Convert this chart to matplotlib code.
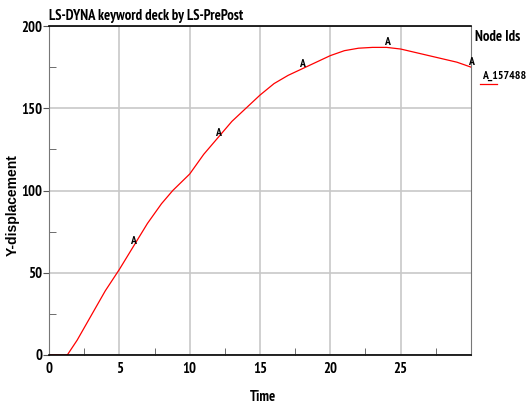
import numpy as np
import matplotlib.pyplot as plt
from matplotlib.ticker import MultipleLocator

# Node 157488 Y-displacement over time
time = [0, 1.3, 2, 3, 4, 5, 6, 7, 8, 8.8, 10, 11, 12, 13, 14, 15, 16, 17, 18,
        19, 20, 21, 22, 23, 24, 25, 26, 27, 28, 29, 30]
ydisp = [0, 0, 9, 24, 39, 52, 66, 80, 92, 100, 110, 122, 132, 142, 150, 158,
         165, 170, 174, 178, 182, 185, 186.5, 187, 187, 186, 184, 182, 180, 178, 175]
marker_times = [6, 12, 18, 24, 30]
node_id = "157488"

plt.rcParams['font.family'] = ['PT Sans Narrow', 'DejaVu Sans']
plt.rcParams['font.weight'] = 'bold'

fig = plt.figure(figsize=(5.26, 4.03), dpi=100)
ax = fig.add_axes([49 / 526, 48 / 403, 422 / 526, 329 / 403])

ax.plot(time, ydisp, color='red', lw=0.9)
for t in marker_times:
    yv = np.interp(t, time, ydisp)
    ax.annotate('A', (t, yv), xytext=(0, 0), textcoords='offset points',
                ha='center', va='bottom', fontsize=8.5, clip_on=False)

ax.set_xlim(0, 30)
ax.set_ylim(0, 200)
ax.xaxis.set_major_locator(MultipleLocator(5))
ax.xaxis.set_minor_locator(MultipleLocator(2.5))
ax.yaxis.set_major_locator(MultipleLocator(50))
ax.yaxis.set_minor_locator(MultipleLocator(25))
ax.set_xticks([0, 5, 10, 15, 20, 25])
ax.grid(True, which='major', color='#c8c8c8', lw=1.2)
ax.tick_params(axis='both', which='major', labelsize=10.5, length=0, pad=5)
ax.tick_params(axis='y', which='major', length=4, direction='out', color='#555555', pad=1)
ax.tick_params(axis='both', which='minor', length=5, direction='in', color='#555555')

for side in ['left', 'right']:
    ax.spines[side].set_color('#777777')
for side in ['top', 'bottom']:
    ax.spines[side].set_color('black')
    ax.spines[side].set_linewidth(1.2)

fig.text(263 / 526, 1 - 397 / 403, 'Time', fontsize=10.5, ha='center', va='center')
fig.text(13 / 526, 1 - 205 / 403, 'Y-displacement', fontsize=10, rotation=90,
         ha='center', va='center', fontweight='bold',
         family=['Liberation Sans', 'DejaVu Sans'])
ax.text(0, 1.008, 'LS-DYNA keyword deck by LS-PrePost', transform=ax.transAxes,
        fontsize=10.5, ha='left', va='bottom')

# legend on the right
fig.text(475 / 526, 1 - 37 / 403, 'Node Ids', fontsize=10.5, ha='left', va='center')
fig.text(482 / 526, 1 - 76 / 403, 'A_' + node_id, fontsize=8.5, ha='left', va='center')
fig.add_artist(plt.Line2D([480 / 526, 497 / 526], [1 - 84 / 403, 1 - 84 / 403],
                          color='red', lw=0.9, transform=fig.transFigure))

fig.savefig('out.png', dpi=100)
